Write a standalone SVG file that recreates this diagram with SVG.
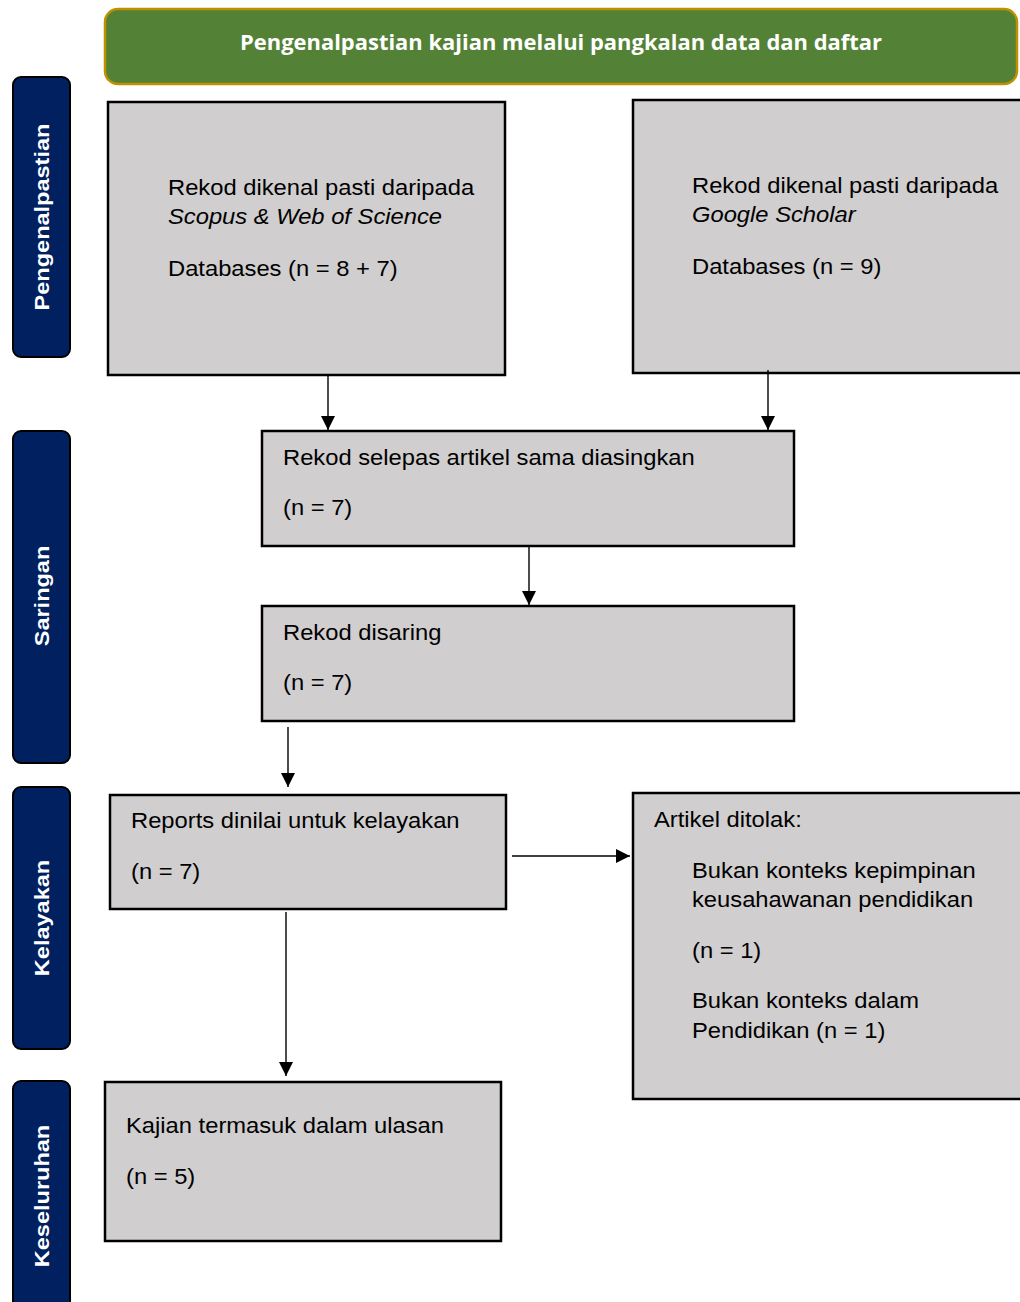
<svg xmlns="http://www.w3.org/2000/svg" width="1020" height="1302" viewBox="0 0 1020 1302">
<style>
.box{fill:#D0CECE;stroke:#000;stroke-width:2.5}
.side{fill:#002060;stroke:#000;stroke-width:2}
.st{font-family:"Liberation Sans",Arial,sans-serif;font-weight:bold;font-size:21px;fill:#fff;text-anchor:middle}
.t{font-family:"Liberation Sans",Arial,sans-serif;font-size:22px;fill:#000}
.i{font-style:italic}
.hd{font-family:"Open Sans","Noto Sans",sans-serif;font-weight:bold;font-size:21px;fill:#fff;text-anchor:middle}
.con{stroke:#000;stroke-width:1.4;fill:none;marker-end:url(#ah)}
</style>
<defs>
<marker id="ah" markerWidth="14" markerHeight="14" refX="14" refY="7" orient="auto" markerUnits="userSpaceOnUse">
<path d="M0,0 L14,7 L0,14 Z" fill="#000"/>
</marker>
</defs>
<rect width="1020" height="1302" fill="#fff"/>
<g id="header">
<rect x="105" y="9" width="912" height="75" rx="13" fill="#538135" stroke="#BF9000" stroke-width="2.5"/>
<text class="hd" x="561" y="50" textLength="642" lengthAdjust="spacingAndGlyphs">Pengenalpastian kajian melalui pangkalan data dan daftar</text>
</g>
<g id="side-pengenalpastian">
<rect class="side" x="13" y="77" width="57" height="280" rx="8"/>
<text class="st" transform="translate(49,217) rotate(-90) scale(1.12,1)">Pengenalpastian</text>
</g>
<g id="side-saringan">
<rect class="side" x="13" y="431" width="57" height="332" rx="8"/>
<text class="st" transform="translate(49,596) rotate(-90) scale(1.12,1)">Saringan</text>
</g>
<g id="side-kelayakan">
<rect class="side" x="13" y="787" width="57" height="262" rx="8"/>
<text class="st" transform="translate(49,918) rotate(-90) scale(1.12,1)">Kelayakan</text>
</g>
<g id="side-keseluruhan">
<rect class="side" x="13" y="1081" width="57" height="240" rx="8"/>
<text class="st" transform="translate(49,1196) rotate(-90) scale(1.12,1)">Keseluruhan</text>
</g>
<g id="box-scopus">
<rect class="box" x="108" y="102" width="397" height="273"/>
<text class="t" transform="translate(168,195) scale(1.08,1)">Rekod dikenal pasti daripada</text>
<text class="t i" transform="translate(168,224) scale(1.08,1)">Scopus &amp; Web of Science</text>
<text class="t" transform="translate(168,276) scale(1.08,1)">Databases (n = 8 + 7)</text>
</g>
<g id="box-google">
<rect class="box" x="633" y="100" width="400" height="273"/>
<text class="t" transform="translate(692,193) scale(1.08,1)">Rekod dikenal pasti daripada</text>
<text class="t i" transform="translate(692,222) scale(1.08,1)">Google Scholar</text>
<text class="t" transform="translate(692,274) scale(1.08,1)">Databases (n = 9)</text>
</g>
<g id="box-dedup">
<rect class="box" x="262" y="431" width="532" height="115"/>
<text class="t" transform="translate(283,465) scale(1.08,1)">Rekod selepas artikel sama diasingkan</text>
<text class="t" transform="translate(283,515) scale(1.08,1)">(n = 7)</text>
</g>
<g id="box-screened">
<rect class="box" x="262" y="606" width="532" height="115"/>
<text class="t" transform="translate(283,640) scale(1.08,1)">Rekod disaring</text>
<text class="t" transform="translate(283,690) scale(1.08,1)">(n = 7)</text>
</g>
<g id="box-eligibility">
<rect class="box" x="110" y="795" width="396" height="114"/>
<text class="t" transform="translate(131,828) scale(1.08,1)">Reports dinilai untuk kelayakan</text>
<text class="t" transform="translate(131,879) scale(1.08,1)">(n = 7)</text>
</g>
<g id="box-excluded">
<rect class="box" x="633" y="793" width="400" height="306"/>
<text class="t" transform="translate(654,827) scale(1.08,1)">Artikel ditolak:</text>
<text class="t" transform="translate(692,878) scale(1.08,1)">Bukan konteks kepimpinan</text>
<text class="t" transform="translate(692,907) scale(1.08,1)">keusahawanan pendidikan</text>
<text class="t" transform="translate(692,958) scale(1.08,1)">(n = 1)</text>
<text class="t" transform="translate(692,1008) scale(1.08,1)">Bukan konteks dalam</text>
<text class="t" transform="translate(692,1038) scale(1.08,1)">Pendidikan (n = 1)</text>
</g>
<g id="box-included">
<rect class="box" x="105" y="1082" width="396" height="159"/>
<text class="t" transform="translate(126,1133) scale(1.08,1)">Kajian termasuk dalam ulasan</text>
<text class="t" transform="translate(126,1184) scale(1.08,1)">(n = 5)</text>
</g>
<g id="connectors">
<line class="con" x1="328" y1="376" x2="328" y2="430"/>
<line class="con" x1="768" y1="370" x2="768" y2="430"/>
<line class="con" x1="529" y1="547" x2="529" y2="605"/>
<line class="con" x1="288" y1="727" x2="288" y2="787"/>
<line class="con" x1="512" y1="856" x2="630" y2="856"/>
<line class="con" x1="286" y1="912" x2="286" y2="1076"/>
</g>
</svg>
